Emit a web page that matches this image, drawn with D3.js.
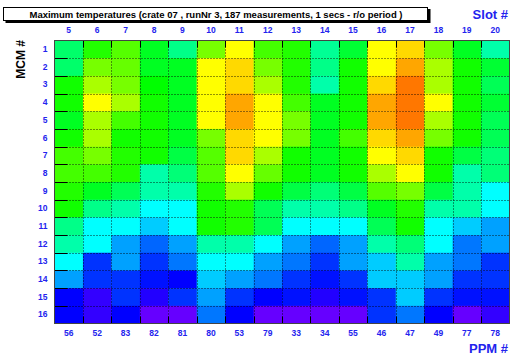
<!DOCTYPE html>
<html><head><meta charset="utf-8">
<script src="https://cdn.jsdelivr.net/npm/d3@7"></script>
<style>
html,body{margin:0;padding:0;background:#fff;}
svg{display:block;font-family:"Liberation Sans",Arial,Helvetica,sans-serif;}
</style></head>
<body><svg id="chart" width="511" height="356"></svg>
<script>
// ---- data ----
const slots = [5,6,7,8,9,10,11,12,13,14,15,16,17,18,19,20];
const ppms  = ["56","52","83","82","81","80","53","79","33","34","55","46","47","49","77","78"];
const mcms  = [1,2,3,4,5,6,7,8,9,10,11,12,13,14,15,16];
// maximum temperature per MCM row, one value per slot
const mcm01 = [38.5,41.8,43.0,40.2,37.8,43.8,47.0,42.6,41.8,37.5,39.8,47.0,47.9,43.8,40.2,37.0];
const mcm02 = [38.5,43.8,43.4,40.2,40.2,47.0,47.9,43.8,41.8,37.8,41.4,47.0,49.1,45.0,41.4,39.8];
const mcm03 = [41.4,45.0,43.8,41.0,40.2,47.0,47.9,45.0,41.8,37.0,41.4,47.9,50.2,45.0,41.4,39.0];
const mcm04 = [41.4,47.0,45.0,41.4,40.2,47.0,49.1,47.0,42.6,40.2,41.4,49.1,50.2,47.0,41.4,39.8];
const mcm05 = [40.2,45.0,42.6,41.4,40.2,47.0,49.1,47.0,43.8,40.2,41.4,49.1,50.2,45.0,41.4,39.0];
const mcm06 = [41.4,45.0,41.4,41.4,40.2,43.8,47.9,47.0,43.8,40.2,42.6,47.9,49.1,43.8,41.4,39.0];
const mcm07 = [42.6,43.8,41.8,41.4,39.4,43.0,47.9,45.0,41.4,40.2,41.4,47.0,47.9,41.4,39.4,38.2];
const mcm08 = [42.6,42.6,41.8,37.0,38.2,43.0,47.0,43.4,41.4,40.2,41.4,45.0,47.0,41.4,37.0,38.2];
const mcm09 = [41.8,40.2,39.0,37.0,37.0,41.8,45.0,41.4,39.4,38.2,39.4,43.0,43.8,39.4,37.0,35.0];
const mcm10 = [41.4,37.8,37.0,35.0,35.0,41.4,41.8,39.0,37.0,37.0,37.8,40.2,41.8,37.0,37.0,35.0];
const mcm11 = [37.8,35.0,35.0,33.8,35.0,41.4,41.8,39.0,35.0,35.0,35.0,39.0,41.4,35.0,33.8,32.8];
const mcm12 = [37.0,35.0,32.8,31.4,32.8,37.0,37.0,35.0,32.8,31.4,32.8,37.0,38.2,35.0,31.8,32.8];
const mcm13 = [35.0,30.2,32.8,30.2,31.8,35.0,35.0,32.8,31.8,30.2,32.8,33.8,37.0,32.8,31.8,30.2];
const mcm14 = [32.8,30.2,30.2,29.4,29.0,33.8,32.8,31.8,30.2,29.4,30.2,33.8,33.8,32.8,30.2,30.2];
const mcm15 = [29.0,27.8,30.2,28.2,30.2,32.8,30.2,29.0,29.4,28.2,29.4,30.2,33.8,30.2,29.4,29.4];
const mcm16 = [29.0,27.8,29.0,26.6,26.6,31.8,29.0,26.6,26.6,26.6,26.6,30.2,31.8,29.0,26.6,27.8];
const rows = [mcm01,mcm02,mcm03,mcm04,mcm05,mcm06,mcm07,mcm08,mcm09,mcm10,mcm11,mcm12,mcm13,mcm14,mcm15,mcm16];
const titleText = "Maximum temperatures (crate 07 , runNr 3, 187 measurements, 1 secs - r/o period )";

// ---- layout ----
const svg = d3.select("#chart");
const L = 54.5, R = 509.5, T = 40.5, B = 323.5;
const blue = "#2323ee";

const x = d3.scaleBand().domain(slots).range([L, R]);
const xb = d3.scaleBand().domain(ppms).range([L, R]);
const y = d3.scaleBand().domain(mcms).range([T, B]);
const hue = d3.scaleLinear().domain([25, 53]).range([280, 0]).clamp(true);
const color = v => d3.hsl(hue(v), 1, 0.5).formatHex();

const cells = [];
rows.forEach((r, i) => r.forEach((v, j) => cells.push({mcm: mcms[i], slot: slots[j], v})));

svg.append("g").selectAll("rect").data(cells).join("rect")
  .attr("x", d => x(d.slot)).attr("y", d => y(d.mcm))
  .attr("width", x.bandwidth() + 0.5).attr("height", y.bandwidth() + 0.5)
  .attr("fill", d => color(d.v));

// dotted grid
const grid = svg.append("g").attr("stroke", "#000").attr("stroke-width", 1)
  .attr("stroke-dasharray", "1,2").attr("opacity", 0.85);
slots.slice(1).forEach(s => grid.append("line")
  .attr("x1", Math.round(x(s)) + 0.5).attr("x2", Math.round(x(s)) + 0.5).attr("y1", T).attr("y2", B));
mcms.slice(1).forEach(m => grid.append("line")
  .attr("y1", Math.round(y(m)) + 0.5).attr("y2", Math.round(y(m)) + 0.5).attr("x1", L).attr("x2", R));

// tick marks
const ticks = svg.append("g").attr("stroke", "#000").attr("stroke-width", 1);
slots.slice(1).forEach(s => {
  const xx = Math.round(x(s)) + 0.5;
  ticks.append("line").attr("x1", xx).attr("x2", xx).attr("y1", T).attr("y2", T + 7);
  ticks.append("line").attr("x1", xx).attr("x2", xx).attr("y1", B).attr("y2", B - 7);
});
mcms.slice(1).forEach(m => {
  const yy = Math.round(y(m)) + 0.5;
  ticks.append("line").attr("y1", yy).attr("y2", yy).attr("x1", L).attr("x2", L + 13);
});

// frame
svg.append("rect").attr("x", L).attr("y", T).attr("width", R - L).attr("height", B - T)
  .attr("fill", "none").attr("stroke", "#444").attr("stroke-width", 1);

// axes (labels only)
function styleAxis(g) {
  g.select(".domain").remove();
  g.selectAll("text").attr("fill", blue).attr("font-weight", "bold")
    .attr("font-size", "8.5px").attr("font-family", "Liberation Sans, Arial, sans-serif");
}
svg.append("g").attr("transform", `translate(0,${T - 7.5})`)
  .call(d3.axisTop(x).tickSize(0).tickPadding(0)).call(styleAxis);
svg.append("g").attr("transform", `translate(0,${B + 6.5})`)
  .call(d3.axisBottom(xb).tickSize(0).tickPadding(0)).call(styleAxis)
  .selectAll("text").attr("dy", "0.71em");
svg.append("g").attr("transform", `translate(${L - 7},0)`)
  .call(d3.axisLeft(y).tickSize(0).tickPadding(0)).call(styleAxis);

// title box with shadow
svg.append("rect").attr("x", 5.5).attr("y", 9).attr("width", 425).attr("height", 14).attr("fill", "#000");
svg.append("rect").attr("x", 3.5).attr("y", 7.5).attr("width", 424).attr("height", 13)
  .attr("fill", "#fff").attr("stroke", "#000").attr("stroke-width", 1);
svg.append("text").attr("x", 216).attr("y", 17.5).attr("text-anchor", "middle")
  .attr("font-weight", "bold").attr("font-size", "9px").attr("fill", "#000")
  .attr("textLength", 373).attr("lengthAdjust", "spacingAndGlyphs").text(titleText);

// axis titles
svg.append("text").attr("x", 508).attr("y", 19).attr("text-anchor", "end")
  .attr("font-weight", "bold").attr("font-size", "13px").attr("fill", blue).text("Slot #");
svg.append("text").attr("x", 508).attr("y", 353).attr("text-anchor", "end")
  .attr("font-weight", "bold").attr("font-size", "13px").attr("fill", blue).text("PPM #");
svg.append("text").attr("transform", "translate(25,40) rotate(-90)").attr("text-anchor", "end")
  .attr("font-weight", "bold").attr("font-size", "12px").attr("fill", "#000").text("MCM #");
</script></body></html>
